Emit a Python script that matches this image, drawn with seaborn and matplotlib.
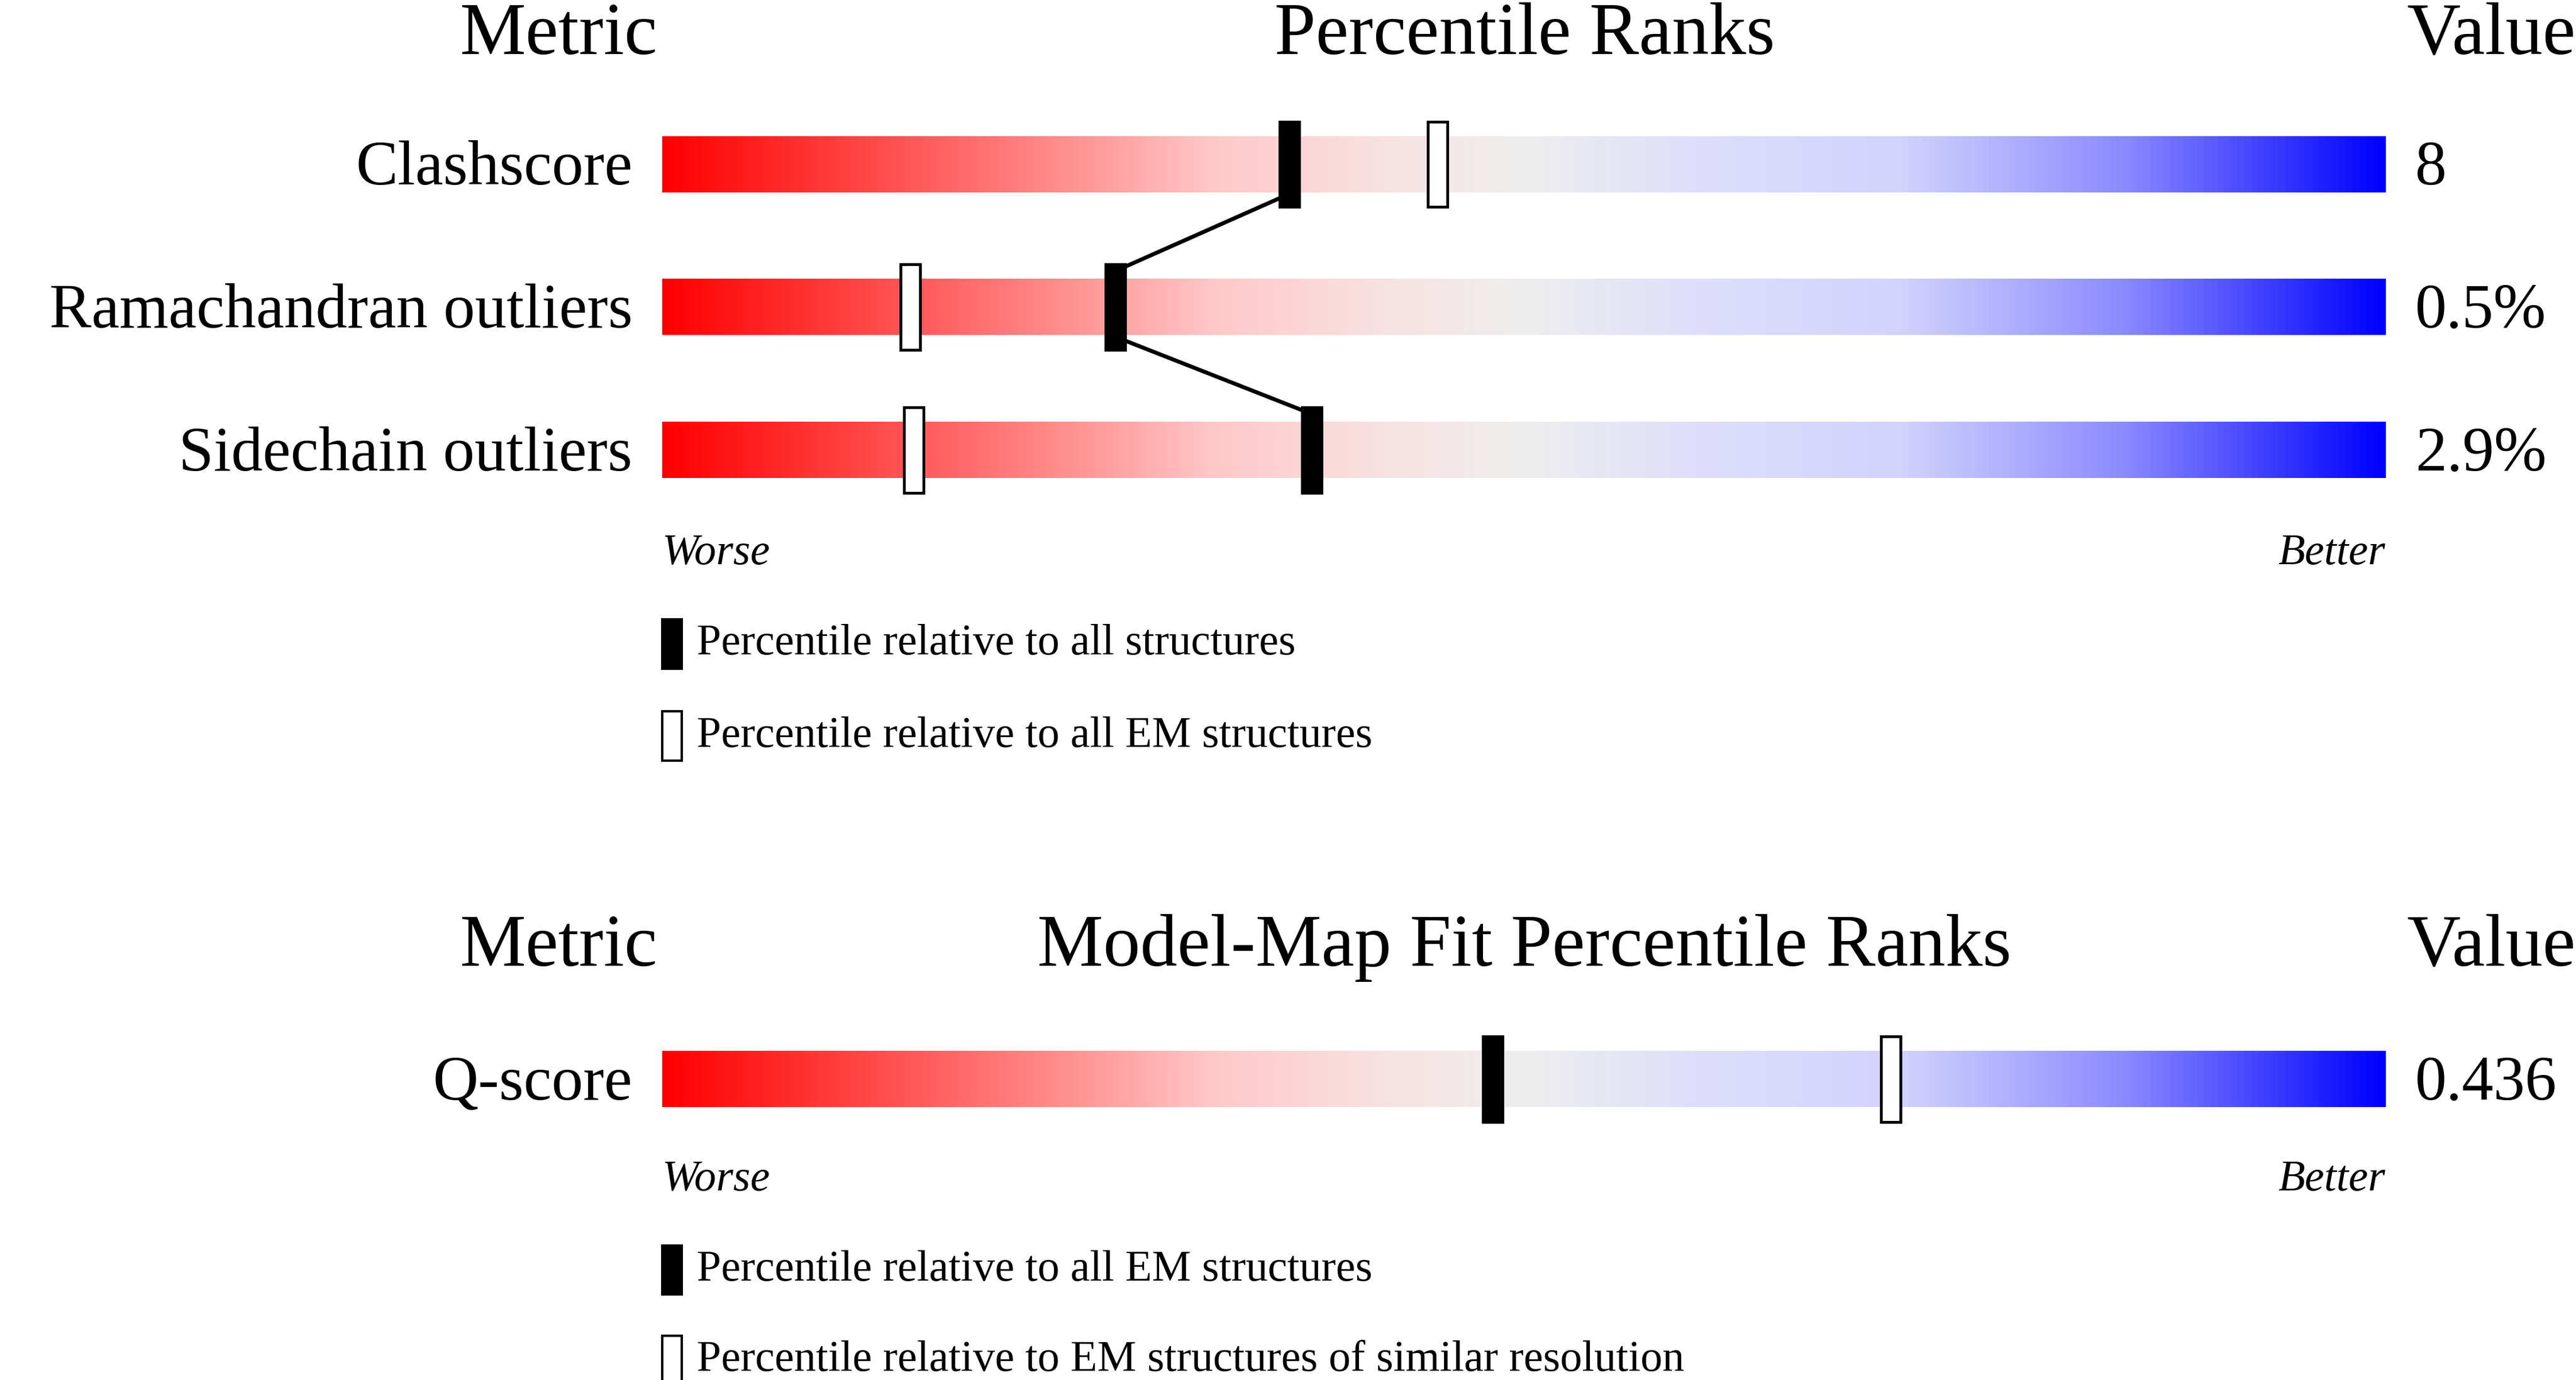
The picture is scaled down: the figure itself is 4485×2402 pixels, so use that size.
import numpy as np
import matplotlib
matplotlib.use("Agg")
import matplotlib.pyplot as plt
import seaborn as sns
from matplotlib.colors import LinearSegmentedColormap
from matplotlib.patches import Rectangle

sns.set_style("white")
plt.rcParams['font.family'] = ['Liberation Serif', 'DejaVu Serif']
plt.rcParams['text.color'] = 'black'

metrics = ["Clashscore", "Ramachandran outliers", "Sidechain outliers"]
values = ["8", "0.5%", "2.9%"]
pct_all = [36.4, 26.3, 37.7]
pct_em = [45.0, 14.4, 14.6]
q_metrics = ["Q-score"]
q_values = ["0.436"]
q_pct_all = [48.2]
q_pct_sim = [71.3]

W, H = 1568, 840
L, R = 403, 1452
S = (R - L) / 100.0
fig = plt.figure(figsize=(44.85, 24.02), dpi=100)
ax = fig.add_axes([0, 0, 1, 1])
ax.set_xlim(-L / S, (W - L) / S)
ax.set_ylim(H, 0)
ax.axis("off")

cmap = LinearSegmentedColormap.from_list("v", [(0, "#ff0000"), (0.2, "#ff7a7a"), (0.32, "#ffc8c8"),
                                               (0.42, "#f8e2e2"), (0.5, "#eeeeee"),
                                               (0.6, "#dedefb"), (0.72, "#d2d2fd"),
                                               (0.85, "#8a8aff"), (1, "#0000ff")])
grad = np.linspace(0, 1, 512)[None, :]
FS_T, FS_L, FS_S = 93, 79, 55

def draw_bar(yc):
    ax.imshow(grad, cmap=cmap, aspect="auto", extent=(0, 100, yc + 17, yc - 17), zorder=1)

def marker(p, yc, filled):
    w = 12 / S
    ax.add_patch(Rectangle((p - w / 2, yc - 26), w, 52, facecolor="black" if filled else "white",
                           edgecolor="black", lw=3.5, zorder=4))

def header(y, title):
    ax.text(340 / S - L / S, y, "Metric", ha="center", va="center", fontsize=FS_T)
    ax.text(928 / S - L / S, y, title, ha="center", va="center", fontsize=FS_T)
    ax.text(W / S - L / S, y, "Value", ha="right", va="center", fontsize=FS_T)

def legend(y1, t1, y2, t2, y_wb):
    ax.text(0, y_wb, "Worse", style="italic", ha="left", va="center", fontsize=FS_S)
    ax.text(100, y_wb, "Better", style="italic", ha="right", va="center", fontsize=FS_S)
    w = 12 / S
    ax.add_patch(Rectangle((0, y1 - 15), w, 30, facecolor="black", edgecolor="black", lw=3))
    ax.add_patch(Rectangle((0, y2 - 15), w, 30, facecolor="white", edgecolor="black", lw=3))
    ax.text(21 / S, y1, t1, ha="left", va="center", fontsize=FS_S)
    ax.text(21 / S, y2, t2, ha="left", va="center", fontsize=FS_S)

header(22, "Percentile Ranks")
ys = [100, 187, 274]
for m, v, pa, pe, yc in zip(metrics, values, pct_all, pct_em, ys):
    draw_bar(yc)
    ax.text((385 - L) / S, yc + 3, m, ha="right", va="center", fontsize=FS_L)
    ax.text((1470 - L) / S, yc + 3, v, ha="left", va="center", fontsize=FS_L)
    marker(pa, yc, True)
    marker(pe, yc, False)

lx, ly = [], []
for i, (pa, yc) in enumerate(zip(pct_all, ys)):
    if i > 0:
        lx.append(pa); ly.append(yc - 22)
    if i < len(ys) - 1:
        lx.append(pa); ly.append(yc + 18)
sns.lineplot(x=lx, y=ly, sort=False, color="black", lw=5, ax=ax, zorder=3, estimator=None)
legend(392, "Percentile relative to all structures", 448, "Percentile relative to all EM structures", 337)

header(577, "Model-Map Fit Percentile Ranks")
for m, v, pa, ps in zip(q_metrics, q_values, q_pct_all, q_pct_sim):
    yc = 657
    draw_bar(yc)
    ax.text((385 - L) / S, yc + 3, m, ha="right", va="center", fontsize=FS_L)
    ax.text((1470 - L) / S, yc + 3, v, ha="left", va="center", fontsize=FS_L)
    marker(pa, yc, True)
    marker(ps, yc, False)
legend(773, "Percentile relative to all EM structures", 828,
       "Percentile relative to EM structures of similar resolution", 718)

fig.savefig("out.png", dpi=100)
